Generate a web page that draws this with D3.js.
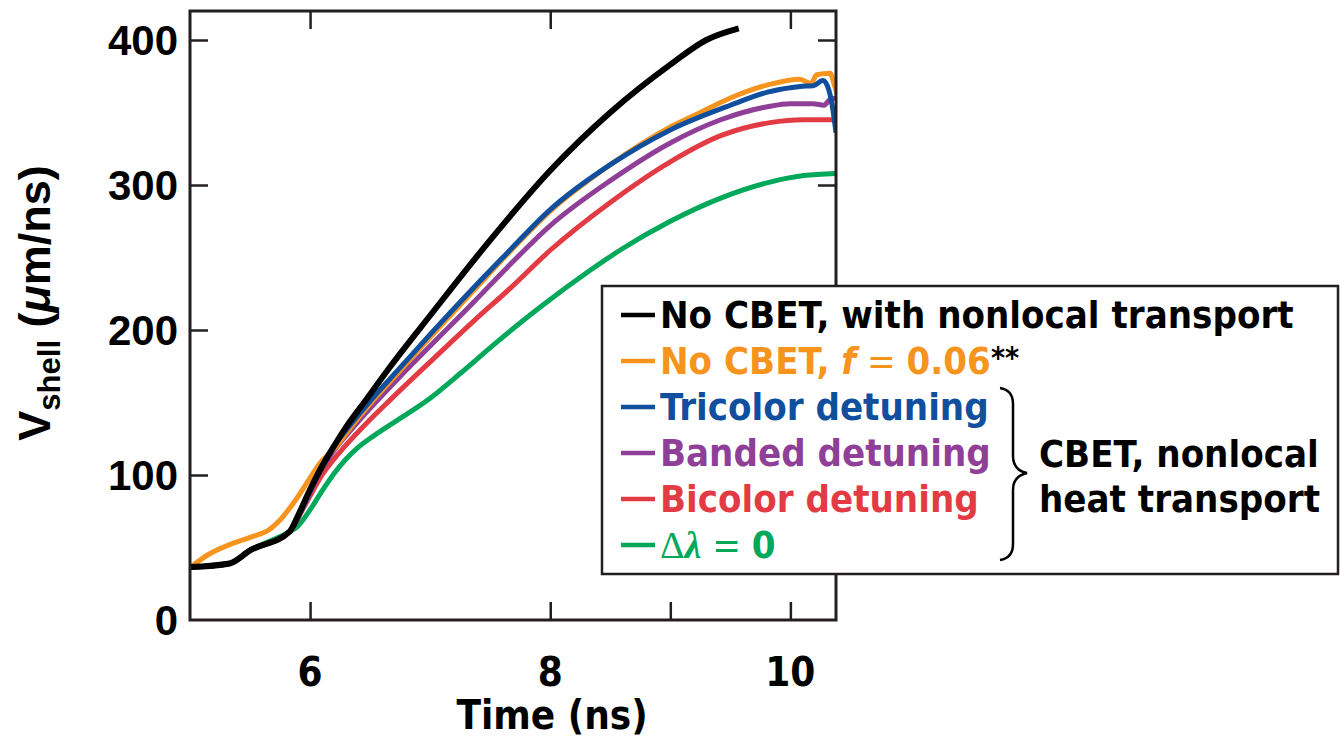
<!DOCTYPE html>
<html>
<head>
<meta charset="utf-8">
<script src="https://cdn.jsdelivr.net/npm/d3@7"></script>
<style>
body { margin: 0; background: #fff; }
svg { display: block; }
text { font-family: "Liberation Sans Narrow", "DejaVu Sans Condensed", "Liberation Sans", Arial, sans-serif; font-weight: bold; font-stretch: condensed; }
text.wide { font-family: "Liberation Sans", Arial, sans-serif; font-stretch: normal; }
</style>
</head>
<body>
<svg width="1340" height="740"></svg>
<script>
// values (time in ns, velocity in um/ns)
var blackT  = [5.0, 5.33, 5.5, 5.83, 5.9, 6.0, 6.1, 6.2, 6.3, 6.45, 6.67, 7.0, 7.5, 8.0, 8.5, 9.0, 9.3, 9.57];
var blackV  = [36.5, 39, 48, 61, 72, 90, 106, 120, 133, 150, 175, 210, 262, 310, 350, 383, 400, 408];

var orangeT = [5.0, 5.15, 5.33, 5.5, 5.67, 5.75, 5.89, 6.0, 6.08, 6.2, 6.35, 6.5, 6.75, 7.0, 7.36, 7.64, 8.0, 8.5, 9.0, 9.25, 9.5, 9.81, 10.08, 10.17, 10.22, 10.33, 10.37, 10.4];
var orangeV = [36, 45, 52, 57, 63, 69, 84, 98, 108, 118, 134, 149, 172, 195, 227, 252, 282, 314, 340, 350, 360, 369, 373, 370, 376, 377, 368, 360];

var blueT   = [5.0, 5.33, 5.5, 5.83, 5.95, 6.07, 6.2, 6.35, 6.5, 6.75, 7.0, 7.36, 7.64, 8.0, 8.5, 9.0, 9.5, 9.81, 10.08, 10.19, 10.27, 10.31, 10.35, 10.38];
var blueV   = [36.5, 39, 48, 61, 80, 102, 120, 136, 151, 174, 197, 229, 253, 283, 314, 338, 355, 364, 368, 368.5, 372, 368, 354, 336];

var purpleT = [5.0, 5.33, 5.5, 5.83, 5.95, 6.07, 6.2, 6.35, 6.5, 6.75, 7.0, 7.36, 7.64, 8.0, 8.5, 9.0, 9.42, 9.81, 10.0, 10.19, 10.28, 10.33, 10.38];
var purpleV = [36.5, 39, 48, 61, 79, 100, 117, 132, 146, 168, 189, 219, 243, 272, 303, 329, 345, 354, 356, 356, 355, 359, 360];

var redT    = [5.0, 5.33, 5.5, 5.83, 5.95, 6.1, 6.25, 6.45, 6.67, 7.0, 7.36, 7.67, 8.0, 8.5, 9.0, 9.42, 9.83, 10.11, 10.38];
var redV    = [36.5, 39, 48, 61, 78, 100, 116, 134, 152, 178, 206, 229, 255, 288, 316, 334, 343, 345, 345];

var greenT  = [5.0, 5.33, 5.5, 5.83, 5.89, 6.0, 6.1, 6.2, 6.3, 6.4, 6.53, 6.75, 7.0, 7.25, 7.56, 7.92, 8.33, 8.58, 9.0, 9.42, 9.83, 10.11, 10.38];
var greenV  = [36.5, 39, 48, 61, 64, 76, 89, 101, 111, 119, 127, 139, 153, 170, 192, 216, 241, 255, 275, 291, 302, 306.5, 308];

var yTicks = [0, 100, 200, 300, 400];
var xTicks = [6, 8, 10];
var xTicksBottom = [6, 8, 9, 10];

var svg = d3.select("svg"),
    plotLeft = 190, plotRight = 836, plotTop = 11, plotBottom = 620;

var x = d3.scaleLinear().domain([5, 10.38]).range([plotLeft, plotRight]);
var y = d3.scaleLinear().domain([0, 420]).range([plotBottom, plotTop]);

var axisColor = "#231f20";

// series, bottom to top drawing order
var series = [
    { t: greenT,  v: greenV,  color: "#00a85a", w: 5 },
    { t: redT,    v: redV,    color: "#e33b43", w: 5 },
    { t: purpleT, v: purpleV, color: "#8f3f98", w: 5 },
    { t: orangeT, v: orangeV, color: "#f7941d", w: 5 },
    { t: blueT,   v: blueV,   color: "#0f4f9e", w: 5 },
    { t: blackT,  v: blackV,  color: "#000000", w: 6 }
];

svg.append("clipPath").attr("id", "plotclip")
  .append("rect").attr("x", plotLeft).attr("y", plotTop)
  .attr("width", plotRight - plotLeft).attr("height", plotBottom - plotTop);

var line = d3.line()
    .x(function (d) { return x(d[0]); })
    .y(function (d) { return y(d[1]); })
    .curve(d3.curveMonotoneX);

svg.append("g").attr("clip-path", "url(#plotclip)")
  .selectAll("path")
  .data(series)
  .enter().append("path")
  .attr("fill", "none")
  .attr("stroke", function (d) { return d.color; })
  .attr("stroke-width", function (d) { return d.w; })
  .attr("stroke-linejoin", "round")
  .attr("d", function (d) { return line(d.t.map(function (t, i) { return [t, d.v[i]]; })); });

// frame and inward ticks
var tickLen = 18;
function styleAxis(g) {
    g.select(".domain").remove();
    g.selectAll(".tick line").attr("stroke", axisColor).attr("stroke-width", 2.5);
    g.selectAll(".tick text").remove();
}
svg.append("g").attr("transform", "translate(0," + plotBottom + ")")
  .call(d3.axisTop(x).tickValues(xTicksBottom).tickSize(tickLen)).call(styleAxis);
svg.append("g").attr("transform", "translate(0," + plotTop + ")")
  .call(d3.axisBottom(x).tickValues(xTicks).tickSize(tickLen)).call(styleAxis);
svg.append("g").attr("transform", "translate(" + plotLeft + ",0)")
  .call(d3.axisRight(y).tickValues(yTicks.slice(1)).tickSize(tickLen)).call(styleAxis);
svg.append("g").attr("transform", "translate(" + plotRight + ",0)")
  .call(d3.axisLeft(y).tickValues(yTicks.slice(1)).tickSize(tickLen)).call(styleAxis);

svg.append("rect")
  .attr("x", plotLeft).attr("y", plotTop)
  .attr("width", plotRight - plotLeft).attr("height", plotBottom - plotTop)
  .attr("fill", "none").attr("stroke", axisColor).attr("stroke-width", 3);

// tick labels
svg.append("g").selectAll("text")
  .data(yTicks).enter().append("text")
  .attr("class", "wide")
  .attr("x", 178).attr("y", function (d) { return y(d); })
  .attr("dy", "0.36em")
  .attr("text-anchor", "end")
  .attr("font-size", 42)
  .text(function (d) { return d; });

svg.append("g").selectAll("text")
  .data(xTicks).enter().append("text")
  .attr("x", function (d) { return x(d); }).attr("y", 686)
  .attr("text-anchor", "middle")
  .attr("font-size", 40)
  .text(function (d) { return d; });

svg.append("text")
  .attr("x", 552).attr("y", 729)
  .attr("text-anchor", "middle")
  .attr("font-size", 40)
  .text("Time (ns)");

var yt = svg.append("text")
  .attr("class", "wide")
  .attr("transform", "translate(50,303) rotate(-90)")
  .attr("text-anchor", "middle")
  .attr("font-size", 45);
yt.append("tspan").text("V");
yt.append("tspan").attr("font-size", 31).attr("dy", 10).text("shell");
yt.append("tspan").attr("dy", -10).text(" (");
yt.append("tspan").attr("font-style", "italic").text("\u03bc");
yt.append("tspan").text("m/ns)");

// legend
var legendRows = [
    { color: "#000000" },
    { color: "#f7941d" },
    { color: "#0f4f9e" },
    { color: "#8f3f98" },
    { color: "#e33b43" },
    { color: "#00a85a" }
];
var legendLabels = ["No CBET, with nonlocal transport", "No CBET, ", "Tricolor detuning", "Banded detuning", "Bicolor detuning", ""];

var lg = svg.append("g");
lg.append("rect")
  .attr("x", 602).attr("y", 286).attr("width", 736).attr("height", 288)
  .attr("fill", "#fff").attr("stroke", axisColor).attr("stroke-width", 2.5);

var rowBase = d3.scaleLinear().domain([0, 5]).range([328, 558]);

lg.selectAll("line.key")
  .data(legendRows).enter().append("line")
  .attr("class", "key")
  .attr("x1", 621).attr("x2", 655)
  .attr("y1", function (d, i) { return rowBase(i) - 13; })
  .attr("y2", function (d, i) { return rowBase(i) - 13; })
  .attr("stroke", function (d) { return d.color; })
  .attr("stroke-width", 4.5);

var labels = lg.selectAll("text.lab")
  .data(legendRows).enter().append("text")
  .attr("class", "lab")
  .attr("x", 660)
  .attr("y", function (d, i) { return rowBase(i); })
  .attr("font-size", 38)
  .attr("fill", function (d) { return d.color; })
  .text(function (d, i) { return legendLabels[i]; });

var orangeRow = d3.select(labels.nodes()[1]);
orangeRow.append("tspan").attr("font-style", "italic").text("f");
orangeRow.append("tspan").attr("font-weight", "normal").text(" = ");
orangeRow.append("tspan").text("0.06");
orangeRow.append("tspan").attr("fill", "#000").attr("font-size", 30).attr("dy", -6).text("**");

var greenRow = d3.select(labels.nodes()[5]);
greenRow.append("tspan").attr("font-family", "Liberation Serif, serif").attr("font-weight", "normal").text("\u0394");
greenRow.append("tspan").attr("font-family", "Liberation Serif, serif").attr("font-style", "italic").text("\u03bb");
greenRow.append("tspan").attr("font-weight", "normal").text(" = ");
greenRow.append("tspan").text("0");

// brace and group label
lg.append("path")
  .attr("d", "M1000,388 Q1013,390 1013,404 L1013,456 Q1013,470 1027,473 Q1013,476 1013,490 L1013,544 Q1013,558 1000,560")
  .attr("fill", "none").attr("stroke", "#000").attr("stroke-width", 2.5);

lg.append("text").attr("x", 1039).attr("y", 467).attr("font-size", 38).text("CBET, nonlocal");
lg.append("text").attr("x", 1039).attr("y", 512).attr("font-size", 38).text("heat transport");
</script>
</body>
</html>
